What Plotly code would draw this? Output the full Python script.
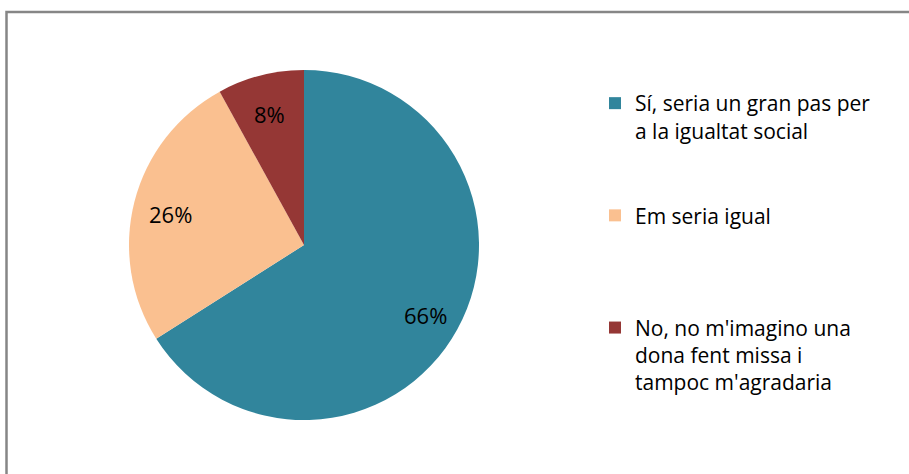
import math
import plotly.graph_objects as go

# Survey answers and their shares (%)
labels = [
    "Sí, seria un gran pas per<br>a la igualtat social<br> <br> ",
    "Em seria igual<br> <br> <br> ",
    "No, no m'imagino una<br>dona fent missa i<br>tampoc m'agradaria<br> ",
]
values = [66, 26, 8]
colors = ["#31859C", "#FAC090", "#953735"]

W, H = 909, 474
cx, cy, r = 304, 245, 175

fig = go.Figure(
    go.Pie(
        labels=labels,
        values=values,
        sort=False,
        direction="clockwise",
        rotation=0,
        marker=dict(colors=colors, line=dict(width=0)),
        textinfo="none",
        hoverinfo="label+percent",
        domain=dict(x=[(cx - r) / W, (cx + r) / W], y=[(H - cy - r) / H, (H - cy + r) / H]),
    )
)

# percentage labels near the rim, on each slice's mid-angle
total = sum(values)
start = 0.0
for v in values:
    mid = (start + v / 2) / total * 2 * math.pi
    start += v
    px = cx + 0.79 * r * math.sin(mid)
    py = cy - 0.79 * r * math.cos(mid)
    fig.add_annotation(
        x=px / W, y=(H - py) / H, xref="paper", yref="paper",
        text=f"{v}%", showarrow=False,
        font=dict(family="Open Sans", size=22, color="#000000"),
        xanchor="center", yanchor="middle", yshift=-3,
    )

# outer chart frame
fig.add_shape(
    type="rect", xref="paper", yref="paper",
    x0=6.5 / W, x1=1.05, y0=-0.05, y1=(H - 12) / H,
    line=dict(color="#868686", width=2.5), fillcolor="rgba(0,0,0,0)", layer="below",
)

fig.update_layout(
    width=W, height=H,
    margin=dict(l=0, r=0, t=0, b=0),
    paper_bgcolor="#FFFFFF",
    plot_bgcolor="#FFFFFF",
    showlegend=True,
    legend=dict(
        x=595 / W, xanchor="left",
        y=(H - 83) / H, yanchor="top",
        valign="top",
        font=dict(family="Open Sans", size=21, color="#000000"),
        bgcolor="rgba(0,0,0,0)",
    ),
)

fig.write_html("out.html")
